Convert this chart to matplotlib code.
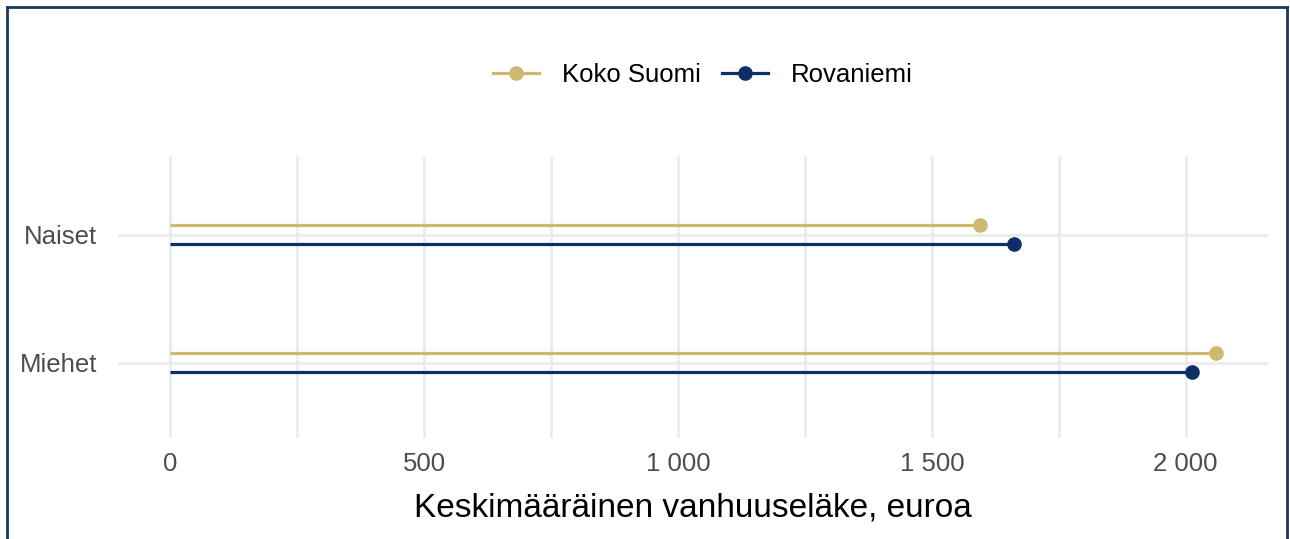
import numpy as np
import matplotlib.pyplot as plt
from matplotlib.lines import Line2D

plt.rcParams['font.family'] = ['Liberation Sans', 'DejaVu Sans']

groups = ['Naiset', 'Miehet']
series = ['Koko Suomi', 'Rovaniemi']
koko_suomi = [1594, 2059]
rovaniemi = [1661, 2012]
colors = ['#CDB96F', '#0B2F66']
xticks = [0, 500, 1000, 1500, 2000]
xtick_labels = ['0', '500', '1 000', '1 500', '2 000']

fig = plt.figure(figsize=(12.9, 5.39), dpi=100)
ax = fig.add_axes([118 / 1290, 1 - 438 / 539, 1150 / 1290, 281 / 539])

ypos = np.array([2, 1])
offsets = [0.075, -0.073]
for vals, col, off, name in zip([koko_suomi, rovaniemi], colors, offsets, series):
    for y, v in zip(ypos, vals):
        ax.plot([0, v], [y + off, y + off], color=col, lw=2.3, solid_capstyle='butt', zorder=3)
    ax.plot(vals, ypos + off, 'o', color=col, markersize=9.5, zorder=4)

ax.set_xlim(-103, 2162)
ax.set_ylim(0.41, 2.61)
ax.set_yticks(ypos)
ax.set_yticklabels(groups)
ax.set_xticks(xticks)
ax.set_xticklabels(xtick_labels)
ax.set_xticks([250, 750, 1250, 1750], minor=True)
ax.grid(True, which='both', axis='x', color='#EBEBEB', lw=2)
ax.grid(True, axis='y', color='#EBEBEB', lw=2)
ax.set_axisbelow(True)
for s in ax.spines.values():
    s.set_visible(False)
ax.tick_params(which='both', length=0)
ax.tick_params(axis='x', labelsize=18.5, labelcolor='#4D4D4D', pad=10)
ax.tick_params(axis='y', labelsize=18.5, labelcolor='#4D4D4D', pad=15)
ax.set_xlabel('Keskimääräinen vanhuuseläke, euroa', fontsize=24, color='black', labelpad=12)

handles = [Line2D([0], [0], color=c, lw=2.3, marker='o', markersize=9.5) for c in colors]
fig.legend(handles, series, loc='center', bbox_to_anchor=(703 / 1290, 1 - 75 / 539), ncol=2,
           frameon=False, fontsize=18.5, handlelength=1.8, columnspacing=0.8, handletextpad=0.9)

# border
for xs, ys in [([7 / 1290, 7 / 1290], [0, 1 - 7 / 539]),
               ([7 / 1290, 1287 / 1290], [1 - 7 / 539, 1 - 7 / 539]),
               ([1287 / 1290, 1287 / 1290], [1 - 7 / 539, 0])]:
    fig.add_artist(Line2D(xs, ys, color='#1B3A5C', lw=2, transform=fig.transFigure))

fig.savefig('out.png', dpi=100)
